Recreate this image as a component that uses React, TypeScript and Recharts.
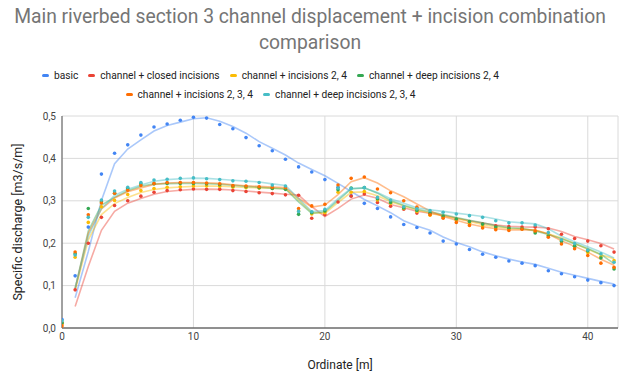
import React from "react"
import { CartesianGrid, ComposedChart, Line, XAxis, YAxis } from "recharts"

// ordinate [m] of each cross-section point
const ordinate = [
  0, 1, 2, 3, 4, 5, 6, 7, 8, 9, 10, 11, 12, 13, 14, 15, 16, 17, 18, 19, 20,
  21, 22, 23, 24, 25, 26, 27, 28, 29, 30, 31, 32, 33, 34, 35, 36, 37, 38, 39,
  40, 41, 42,
]

// specific discharge [m3/s/m]
const basic = [
  0.02, 0.123, 0.238, 0.363, 0.412, 0.432, 0.455, 0.474, 0.481, 0.49, 0.497,
  0.495, 0.48, 0.47, 0.449, 0.43, 0.418, 0.398, 0.38, 0.368, 0.35, 0.332,
  0.312, 0.294, 0.282, 0.262, 0.244, 0.237, 0.224, 0.205, 0.198, 0.185, 0.174,
  0.167, 0.158, 0.153, 0.147, 0.135, 0.128, 0.121, 0.113, 0.107, 0.1,
]
const closedIncisions = [
  0.012, 0.09, 0.2, 0.261, 0.289, 0.3, 0.311, 0.32, 0.324, 0.326, 0.328,
  0.327, 0.327, 0.324, 0.322, 0.319, 0.317, 0.314, 0.313, 0.259, 0.267, 0.297,
  0.311, 0.316, 0.296, 0.287, 0.28, 0.271, 0.27, 0.262, 0.256, 0.25, 0.245,
  0.241, 0.239, 0.238, 0.238, 0.234, 0.221, 0.211, 0.205, 0.194, 0.179,
]
const incisions24 = [
  0.01, 0.167, 0.249, 0.286, 0.301, 0.315, 0.324, 0.329, 0.332, 0.333, 0.335,
  0.335, 0.334, 0.332, 0.331, 0.33, 0.329, 0.328, 0.276, 0.269, 0.272, 0.32,
  0.32, 0.322, 0.302, 0.294, 0.282, 0.275, 0.266, 0.262, 0.255, 0.247, 0.241,
  0.236, 0.234, 0.234, 0.227, 0.218, 0.206, 0.193, 0.178, 0.168, 0.159,
]
const deepIncisions24 = [
  0.012, 0.175, 0.282, 0.298, 0.318, 0.329, 0.34, 0.34, 0.341, 0.341, 0.341,
  0.34, 0.338, 0.335, 0.333, 0.331, 0.329, 0.327, 0.268, 0.272, 0.276, 0.326,
  0.33, 0.331, 0.305, 0.296, 0.283, 0.277, 0.271, 0.264, 0.257, 0.251, 0.245,
  0.238, 0.235, 0.234, 0.224, 0.217, 0.204, 0.193, 0.182, 0.165, 0.139,
]
const incisions234 = [
  0.005, 0.179, 0.267, 0.295, 0.318, 0.325, 0.336, 0.341, 0.343, 0.343, 0.343,
  0.342, 0.34, 0.336, 0.335, 0.333, 0.332, 0.331, 0.282, 0.288, 0.292, 0.337,
  0.353, 0.356, 0.328, 0.319, 0.3, 0.285, 0.267, 0.259, 0.249, 0.242, 0.236,
  0.232, 0.23, 0.233, 0.229, 0.214, 0.198, 0.187, 0.171, 0.153, 0.143,
]
const deepIncisions234 = [
  0.017, 0.172, 0.261, 0.302, 0.323, 0.332, 0.343, 0.349, 0.351, 0.353, 0.354,
  0.352, 0.35, 0.347, 0.346, 0.343, 0.337, 0.335, 0.275, 0.274, 0.28, 0.33,
  0.329, 0.331, 0.308, 0.302, 0.286, 0.281, 0.277, 0.273, 0.269, 0.265, 0.261,
  0.253, 0.248, 0.248, 0.243, 0.225, 0.208, 0.199, 0.184, 0.175, 0.155,
]

const xTicks = [0, 10, 20, 30, 40]
const yTicks = [0, 0.1, 0.2, 0.3, 0.4, 0.5]

const seriesList = [
  { key: "basic", label: "basic", color: "#4285f4", values: basic },
  { key: "closed", label: "channel + closed incisions", color: "#ea4335", values: closedIncisions },
  { key: "inc24", label: "channel + incisions 2, 4", color: "#fbbc04", values: incisions24 },
  { key: "deep24", label: "channel + deep incisions 2, 4", color: "#34a853", values: deepIncisions24 },
  { key: "inc234", label: "channel + incisions 2, 3, 4", color: "#ff6d01", values: incisions234 },
  { key: "deep234", label: "channel + deep incisions 2, 3, 4", color: "#46bdc6", values: deepIncisions234 },
]

// the sheet's trendlines are a 2-point moving average of each series
const rows = ordinate.map((x, i) => {
  const row: { [key: string]: number | null } = { x }
  seriesList.forEach((s) => {
    row[s.key] = s.values[i]
    row[s.key + "Trend"] = i > 0 ? (s.values[i - 1] + s.values[i]) / 2 : null
  })
  return row
})

const font = "Roboto, Arial, sans-serif"

const LegendItem = ({ label, color }: { label: string; color: string }) => (
  <span style={{ display: "inline-flex", alignItems: "center", margin: "0 5px" }}>
    <span
      style={{
        width: 7,
        height: 3,
        borderRadius: 2,
        background: color,
        marginRight: 5,
        display: "inline-block",
      }}
    />
    <span>{label}</span>
  </span>
)

export default function App() {
  return (
    <div
      style={{
        position: "absolute",
        left: 0,
        top: 0,
        width: 620,
        height: 381,
        background: "#fff",
        fontFamily: font,
      }}
    >
      <div
        style={{
          position: "absolute",
          top: 4,
          left: 0,
          width: 620,
          textAlign: "center",
          fontSize: 19.3,
          lineHeight: "26px",
          color: "#757575",
        }}
      >
        Main riverbed section 3 channel displacement + incision combination
        <br />
        comparison
      </div>

      <div
        style={{
          position: "absolute",
          top: 65,
          left: 0,
          width: 541,
          fontSize: 10.2,
          lineHeight: "17px",
          color: "#222",
          textAlign: "center",
        }}
      >
        <div>
          {seriesList.slice(0, 4).map((s) => (
            <LegendItem key={s.key} label={s.label} color={s.color} />
          ))}
        </div>
        <div>
          {seriesList.slice(4).map((s) => (
            <LegendItem key={s.key} label={s.label} color={s.color} />
          ))}
        </div>
      </div>

      <ComposedChart
        width={620}
        height={381}
        data={rows}
        margin={{ top: 116, right: 2, bottom: 23, left: 32 }}
        style={{ position: "absolute", left: 0, top: 0 }}
      >
        <CartesianGrid stroke="#dadada" strokeWidth={1} />
        <XAxis
          dataKey="x"
          type="number"
          domain={[0, 42.3]}
          ticks={xTicks}
          allowDataOverflow
          height={30}
          tickSize={3}
          tickMargin={2}
          tickLine={false}
          axisLine={{ stroke: "#333" }}
          tick={{ fontSize: 10, fill: "#444", fontFamily: font }}
        />
        <YAxis
          type="number"
          domain={[0, 0.5]}
          ticks={yTicks}
          width={30}
          tickSize={4}
          tickMargin={2}
          tickLine={false}
          axisLine={{ stroke: "#555" }}
          tick={{ fontSize: 10, fill: "#444", fontFamily: font }}
          tickFormatter={(v: number) => v.toFixed(1).replace(".", ",")}
        />
        {seriesList.map((s) => (
          <Line
            key={s.key + "Trend"}
            dataKey={s.key + "Trend"}
            type="linear"
            stroke={s.color}
            strokeOpacity={0.45}
            strokeWidth={1.6}
            dot={false}
            activeDot={false}
            connectNulls
            isAnimationActive={false}
          />
        ))}
        {seriesList.map((s) => (
          <Line
            key={s.key}
            dataKey={s.key}
            stroke="none"
            dot={{ r: 1.8, fill: s.color, stroke: "none" }}
            activeDot={false}
            isAnimationActive={false}
          />
        ))}
      </ComposedChart>

      <div
        style={{
          position: "absolute",
          top: 358,
          left: 62,
          width: 556,
          textAlign: "center",
          fontSize: 12,
          color: "#222",
        }}
      >
        Ordinate [m]
      </div>
      <div
        style={{
          position: "absolute",
          left: 17,
          top: 222,
          transform: "translate(-50%, -50%) rotate(-90deg)",
          whiteSpace: "nowrap",
          fontSize: 12.5,
          color: "#222",
        }}
      >
        Specific discharge [m3/s/m]
      </div>
    </div>
  )
}
